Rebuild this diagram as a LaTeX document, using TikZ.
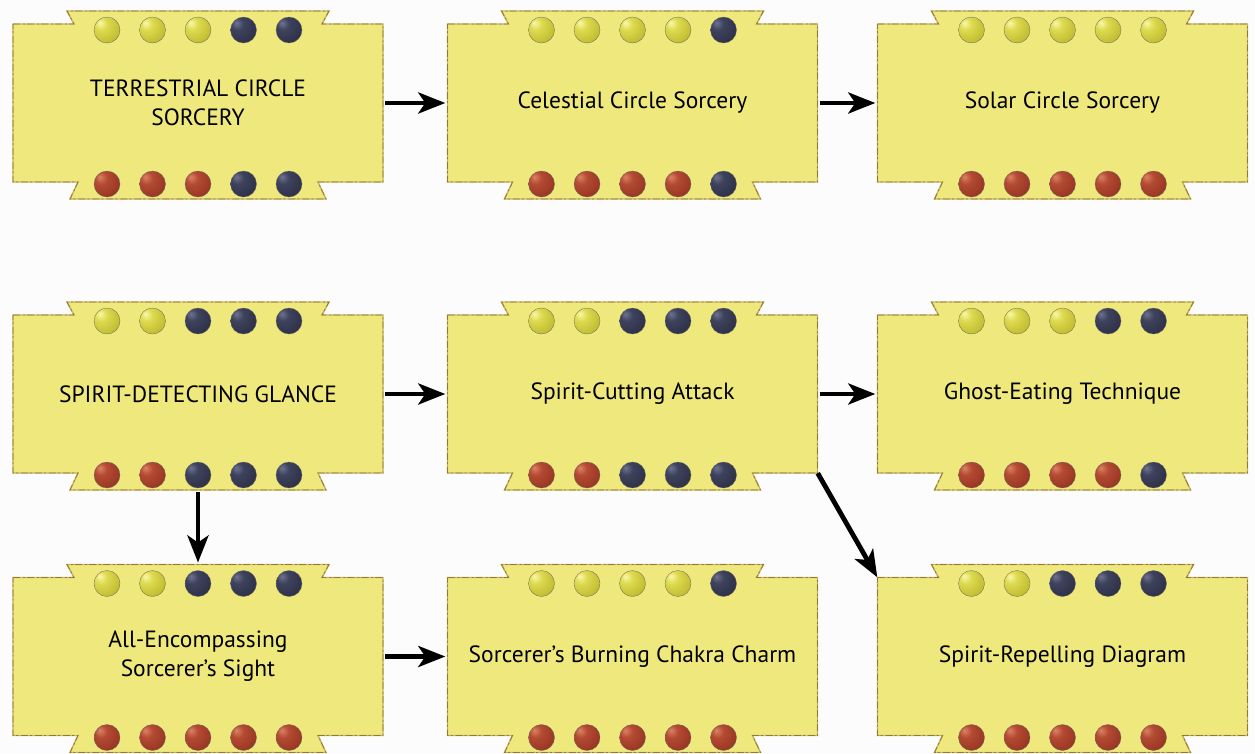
\documentclass[tikz,border=0pt]{standalone}
\usepackage{fontspec}
\setmainfont{PT Sans}
\usetikzlibrary{arrows.meta,calc}
\definecolor{bgc}{RGB}{252,252,252}
\definecolor{cardfill}{RGB}{239,233,125}
\definecolor{cardline}{RGB}{145,122,55}
\definecolor{cardlinelight}{RGB}{200,180,95}
\pgfdeclareradialshading{gemY}{\pgfqpoint{-14bp}{14bp}}{color(0bp)=(rgb,255:red,250;green,248;blue,170); color(12bp)=(rgb,255:red,222;green,218;blue,80); color(36bp)=(rgb,255:red,190;green,185;blue,45); color(58bp)=(rgb,255:red,130;green,128;blue,30); color(75bp)=(rgb,255:red,120;green,118;blue,30)}
\pgfdeclareradialshading{gemB}{\pgfqpoint{-14bp}{14bp}}{color(0bp)=(rgb,255:red,110;green,115;blue,145); color(12bp)=(rgb,255:red,62;green,66;blue,92); color(36bp)=(rgb,255:red,45;green,48;blue,70); color(58bp)=(rgb,255:red,25;green,27;blue,40); color(75bp)=(rgb,255:red,22;green,24;blue,35)}
\pgfdeclareradialshading{gemR}{\pgfqpoint{-14bp}{14bp}}{color(0bp)=(rgb,255:red,220;green,130;blue,100); color(12bp)=(rgb,255:red,180;green,75;blue,50); color(36bp)=(rgb,255:red,150;green,52;blue,35); color(58bp)=(rgb,255:red,95;green,30;blue,20); color(75bp)=(rgb,255:red,85;green,28;blue,18)}
\tikzset{
  cardshape/.style={fill=cardfill, draw=cardlinelight, line width=1.4pt, line join=miter},
  cardrough/.style={draw=cardline, line width=0.8pt, dash pattern=on 7pt off 3pt on 2pt off 2pt},
  cardtext/.style={minimum width=370pt, minimum height=158pt, inner sep=0pt, align=center,
    font=\fontsize{23.5}{29}\selectfont, text=black},
  gem/.style={draw=black!60, line width=0.3pt},
  conn/.style={line width=4.8pt, black, -{Stealth[length=27pt,width=21pt,inset=7pt]}, shorten <=2pt, shorten >=2pt}
}
\newcommand{\charmcard}[6]{%
  \path[cardshape] (#2-185,#3-79) -- (#2-124,#3-79) -- (#2-131,#3-92) -- (#2+131,#3-92) -- (#2+124,#3-79)
    -- (#2+185,#3-79) -- (#2+185,#3+79) -- (#2+120,#3+79) -- (#2+128,#3+96) -- (#2-128,#3+96)
    -- (#2-120,#3+79) -- (#2-185,#3+79) -- cycle;
  \path[cardrough] (#2-185,#3-79) -- (#2-124,#3-79) -- (#2-131,#3-92) -- (#2+131,#3-92) -- (#2+124,#3-79)
    -- (#2+185,#3-79) -- (#2+185,#3+79) -- (#2+120,#3+79) -- (#2+128,#3+96) -- (#2-128,#3+96)
    -- (#2-120,#3+79) -- (#2-185,#3+79) -- cycle;
  \foreach \c [count=\i from -2] in {#5} {\shade[gem, shading=gem\c] (#2+\i*45.5,#3-73) circle (13pt);}
  \foreach \c [count=\i from -2] in {#6} {\shade[gem, shading=gem\c] (#2+\i*45.5,#3+81) circle (13pt);}
  \node[cardtext] (#1) at (#2,#3) {#4};
  \coordinate (#1-tt) at (#2,#3-92);
  \coordinate (#1-bt) at (#2,#3+96);
}
\begin{document}
\begin{tikzpicture}[x=1pt,y=-1pt]
\useasboundingbox (0,0) rectangle (1255,753);
\fill[bgc] (0,0) rectangle (1255,753);
% row 1
\charmcard{tcs}{198}{103}{TERRESTRIAL CIRCLE\\SORCERY}{Y,Y,Y,B,B}{R,R,R,B,B}
\charmcard{ccs}{632.5}{103}{Celestial Circle Sorcery}{Y,Y,Y,Y,B}{R,R,R,R,B}
\charmcard{scs}{1062.5}{103}{Solar Circle Sorcery}{Y,Y,Y,Y,Y}{R,R,R,R,R}
% row 2
\charmcard{sdg}{198}{394}{SPIRIT-DETECTING GLANCE}{Y,Y,B,B,B}{R,R,B,B,B}
\charmcard{sca}{632.5}{394}{Spirit-Cutting Attack}{Y,Y,B,B,B}{R,R,B,B,B}
\charmcard{get}{1062.5}{394}{Ghost-Eating Technique}{Y,Y,Y,B,B}{R,R,R,R,B}
% row 3
\charmcard{aes}{198}{656.5}{All-Encompassing\\Sorcerer’s Sight}{Y,Y,B,B,B}{R,R,R,R,R}
\charmcard{sbc}{632.5}{656.5}{Sorcerer’s Burning Chakra Charm}{Y,Y,Y,Y,B}{R,R,R,R,R}
\charmcard{srd}{1062.5}{656.5}{Spirit-Repelling Diagram}{Y,Y,B,B,B}{R,R,R,R,R}
% connectors
\draw[conn] (tcs.east) -- (ccs.west);
\draw[conn] (ccs.east) -- (scs.west);
\draw[conn] (sdg.east) -- (sca.west);
\draw[conn] (sca.east) -- (get.west);
\draw[conn] (aes.east) -- (sbc.west);
\draw[conn] (sdg-bt) -- (aes-tt);
\draw[conn, shorten <=0pt, shorten >=0pt] (sca.south east) -- (srd.north west);
\end{tikzpicture}
\end{document}
